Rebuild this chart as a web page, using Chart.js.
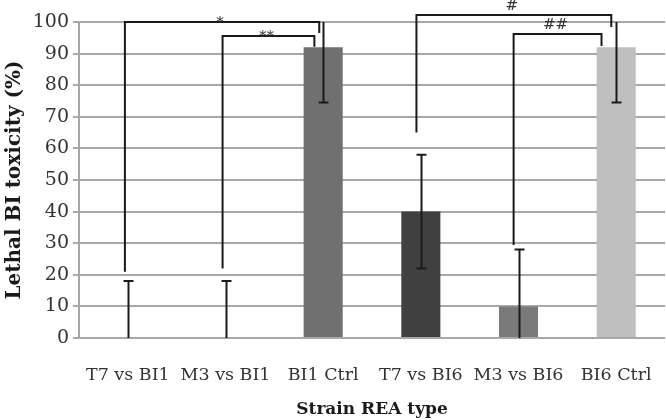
<!DOCTYPE html>
<html>
<head>
<meta charset="utf-8">
<script src="https://cdn.jsdelivr.net/npm/chart.js@4"></script>
<style>
  html, body { margin: 0; padding: 0; background: #fff; }
  #wrap { width: 666px; height: 420px; }
</style>
</head>
<body>
<div id="wrap"><canvas id="chart" width="666" height="420"></canvas></div>
<script>
const categories = ['T7 vs BI1', 'M3 vs BI1', 'BI1 Ctrl', 'T7 vs BI6', 'M3 vs BI6', 'BI6 Ctrl'];
const toxicity = [0, 0, 92, 40, 10, 92];
const errors = [18, 18, 17.5, 18, 18, 17.5];
const barColors = ['#707070', '#707070', '#707070', '#404040', '#7a7a7a', '#bfbfbf'];
const yTicks = [0, 10, 20, 30, 40, 50, 60, 70, 80, 90, 100];

// significance brackets: [label, from category, to category, top, left end, right end]
const brackets = [
    ['*', -0.03, 1.96, 100, 21, 96.5],
    ['**', 0.97, 1.91, 95.6, 22, 92.2],
    ['#', 2.955, 4.95, 102.2, 65, 98.4],
    ['##', 3.95, 4.85, 96.2, 29.4, 92.4]
];

const serif = "'DejaVu Serif', serif";

// Error bars and brackets
const overlay = {
    id: 'overlay',
    afterDatasetsDraw(chart) {
        const ctx = chart.ctx;
        const x = chart.scales.x, y = chart.scales.y;
        const area = chart.chartArea;

        ctx.save();
        ctx.beginPath();
        ctx.rect(area.left, area.top, area.right - area.left, area.bottom - area.top);
        ctx.clip();
        ctx.strokeStyle = '#1a1a1a';
        ctx.lineWidth = 2;
        toxicity.forEach((v, i) => {
            const px = Math.round(x.getPixelForValue(i)) + 0.5;
            const hi = y.getPixelForValue(v + errors[i]);
            const lo = y.getPixelForValue(v - errors[i]);
            ctx.beginPath();
            ctx.moveTo(px, hi);
            ctx.lineTo(px, lo);
            ctx.moveTo(px - 5, hi);
            ctx.lineTo(px + 5, hi);
            ctx.moveTo(px - 5, lo);
            ctx.lineTo(px + 5, lo);
            ctx.stroke();
        });
        ctx.restore();

        ctx.save();
        ctx.strokeStyle = '#1a1a1a';
        ctx.lineWidth = 2;
        ctx.fillStyle = '#333';
        ctx.font = '15px ' + serif;
        ctx.textAlign = 'center';
        ctx.textBaseline = 'bottom';
        brackets.forEach(b => {
            const x1 = x.getPixelForValue(b[1]);
            const x2 = x.getPixelForValue(b[2]);
            const top = y.getPixelForValue(b[3]);
            ctx.beginPath();
            ctx.moveTo(x1, y.getPixelForValue(b[4]));
            ctx.lineTo(x1, top);
            ctx.lineTo(x2, top);
            ctx.lineTo(x2, y.getPixelForValue(b[5]));
            ctx.stroke();
            ctx.fillText(b[0], (x1 + x2) / 2 - 2, top + (b[0][0] === '*' ? 9 : -1));
        });
        ctx.restore();
    }
};

new Chart(document.getElementById('chart').getContext('2d'), {
    type: 'bar',
    data: {
        labels: categories,
        datasets: [{
            data: toxicity,
            backgroundColor: barColors,
            borderWidth: 0,
            categoryPercentage: 1,
            barPercentage: 0.4
        }]
    },
    options: {
        responsive: false,
        animation: false,
        layout: { padding: { top: 22, right: 1, left: 0, bottom: 0 } },
        plugins: {
            legend: { display: false },
            tooltip: { enabled: false }
        },
        scales: {
            x: {
                grid: { display: false, drawTicks: false },
                border: { display: false },
                ticks: {
                    color: '#333',
                    padding: 27,
                    autoSkip: false,
                    maxRotation: 0,
                    minRotation: 0,
                    font: { family: serif, size: 17.5 }
                },
                title: {
                    display: true,
                    text: 'Strain REA type',
                    color: '#1a1a1a',
                    font: { family: serif, size: 17, weight: 'bold' },
                    padding: { top: 0, bottom: 0 }
                },
                afterFit: s => {
                    s.height = 82;
                    s.paddingLeft = 0;
                    s.paddingRight = 0;
                }
            },
            y: {
                min: 0,
                max: 100,
                afterBuildTicks: s => { s.ticks = yTicks.map(v => ({ value: v })); },
                grid: { color: '#a8a8a8', lineWidth: 2, tickLength: 6 },
                border: { display: true, color: '#a8a8a8', width: 2 },
                ticks: {
                    color: '#333',
                    padding: 4,
                    font: { family: serif, size: 19 }
                },
                title: {
                    display: true,
                    text: 'Lethal BI toxicity (%)',
                    color: '#1a1a1a',
                    font: { family: serif, size: 20, weight: 'bold' },
                    padding: { top: 3, bottom: 0 }
                },
                afterFit: s => {
                    s.width = 79;
                    s.paddingTop = 0;
                    s.paddingBottom = 0;
                }
            }
        }
    },
    plugins: [overlay]
});
</script>
</body>
</html>
